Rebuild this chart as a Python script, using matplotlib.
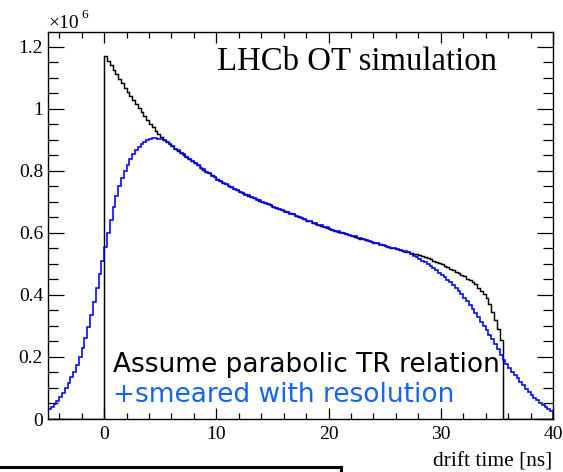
import matplotlib
matplotlib.use("Agg")
import matplotlib.pyplot as plt
import numpy as np
from matplotlib.ticker import MultipleLocator, FuncFormatter
from matplotlib.patches import Rectangle

# ---------------- data (entries per 0.25 ns bin, in units of 10^6) ----------------
t_min, t_max, n_bins = -5.0, 40.0, 180

# unsmeared drift time distribution (black)
black_counts = (
    [0.0] * 20 +
    [1.172, 1.153, 1.140, 1.126, 1.111, 1.097, 1.083, 1.069,
     1.055, 1.042, 1.028, 1.015, 1.002, 0.989, 0.977, 0.964,
     0.952, 0.941, 0.930, 0.919, 0.909, 0.901, 0.894, 0.886,
     0.879, 0.872, 0.865, 0.858, 0.852, 0.845, 0.839, 0.832,
     0.825, 0.818, 0.811, 0.804, 0.798, 0.792, 0.786, 0.779,
     0.773, 0.767, 0.762, 0.757, 0.752, 0.747, 0.742, 0.737,
     0.733, 0.729, 0.724, 0.720, 0.716, 0.712, 0.708, 0.704,
     0.700, 0.696, 0.693, 0.689, 0.685, 0.681, 0.678, 0.674,
     0.670, 0.667, 0.663, 0.660, 0.656, 0.652, 0.648, 0.644,
     0.640, 0.637, 0.633, 0.630, 0.626, 0.623, 0.620, 0.617,
     0.613, 0.610, 0.607, 0.604, 0.602, 0.599, 0.596, 0.593,
     0.591, 0.588, 0.585, 0.582, 0.580, 0.577, 0.574, 0.571,
     0.569, 0.566, 0.563, 0.560, 0.558, 0.555, 0.553, 0.550,
     0.548, 0.545, 0.543, 0.540, 0.538, 0.536, 0.533, 0.531,
     0.528, 0.525, 0.521, 0.518, 0.515, 0.511, 0.507, 0.503,
     0.499, 0.494, 0.490, 0.485, 0.480, 0.475, 0.470, 0.465,
     0.460, 0.453, 0.447, 0.441, 0.434, 0.424, 0.413, 0.402,
     0.390, 0.370, 0.345, 0.318, 0.290, 0.255] +
    [0.0] * 18
)

# smeared with resolution (blue)
blue_counts = [
    0.032, 0.040, 0.049, 0.059, 0.071, 0.085, 0.100, 0.117,
    0.134, 0.153, 0.175, 0.201, 0.230, 0.262, 0.297, 0.335,
    0.377, 0.422, 0.467, 0.510,
    0.555, 0.600, 0.643, 0.684, 0.720, 0.752, 0.778, 0.800,
    0.820, 0.838, 0.853, 0.866, 0.877, 0.886, 0.894, 0.900,
    0.904, 0.906, 0.906, 0.904, 0.902, 0.899, 0.893, 0.887,
    0.880, 0.871, 0.866, 0.857, 0.853, 0.846, 0.838, 0.833,
    0.827, 0.819, 0.810, 0.805, 0.797, 0.793, 0.785, 0.780,
    0.772, 0.768, 0.761, 0.758, 0.751, 0.748, 0.741, 0.738,
    0.732, 0.730, 0.723, 0.721, 0.715, 0.713, 0.707, 0.705,
    0.699, 0.697, 0.692, 0.690, 0.684, 0.682, 0.677, 0.675,
    0.669, 0.668, 0.662, 0.661, 0.655, 0.653, 0.647, 0.645,
    0.639, 0.638, 0.632, 0.631, 0.625, 0.624, 0.619, 0.618,
    0.612, 0.611, 0.606, 0.605, 0.601, 0.600, 0.595, 0.594,
    0.590, 0.589, 0.584, 0.583, 0.579, 0.578, 0.573, 0.572,
    0.568, 0.567, 0.562, 0.561, 0.557, 0.556, 0.552, 0.551,
    0.547, 0.546, 0.542, 0.541, 0.537, 0.533, 0.527, 0.521,
    0.517, 0.511, 0.505, 0.500, 0.494, 0.487, 0.479, 0.472,
    0.465, 0.457, 0.449, 0.441, 0.432, 0.422, 0.412, 0.402,
    0.391, 0.379, 0.367, 0.355, 0.342, 0.328, 0.314, 0.300,
    0.286, 0.271, 0.257, 0.242, 0.226, 0.208, 0.190, 0.176,
    0.164, 0.153, 0.142, 0.131, 0.120, 0.109, 0.098, 0.087,
    0.078, 0.069, 0.060, 0.052, 0.045, 0.038, 0.031, 0.026,
]

x_ticks = [0, 10, 20, 30, 40]
y_ticks = [0, 0.2, 0.4, 0.6, 0.8, 1.0, 1.2]

assert len(black_counts) == n_bins and len(blue_counts) == n_bins

# ---------------- figure ----------------
W, H = 563, 472
plt.rcParams["font.family"] = ["Liberation Serif", "DejaVu Serif"]
fig = plt.figure(figsize=(W / 100, H / 100), dpi=100)
ax = fig.add_axes([48 / W, 1 - 419 / H, 505 / W, 387 / H])

edges = np.linspace(t_min, t_max, n_bins + 1)
ax.stairs(black_counts, edges, color="black", lw=1.05, baseline=0)
ax.stairs(blue_counts, edges, color="#0000ff", lw=1.15, baseline=0)

ax.set_xlim(t_min, t_max)
ax.set_ylim(0, 1.248)

ax.set_xticks(x_ticks)
ax.set_yticks(y_ticks)
ax.xaxis.set_minor_locator(MultipleLocator(2))
ax.yaxis.set_minor_locator(MultipleLocator(0.05))
ax.yaxis.set_major_formatter(FuncFormatter(lambda v, p: f"{v:g}"))
ax.xaxis.set_major_formatter(FuncFormatter(lambda v, p: f"{v:g}"))

ax.tick_params(which="both", direction="in", top=True, right=True,
               labelsize=14, width=0.9, colors="black")
ax.xaxis.set_tick_params(which="major", length=8, pad=5)
ax.xaxis.set_tick_params(which="minor", length=4.3)
ax.yaxis.set_tick_params(which="major", length=11.5, pad=3.6)
ax.yaxis.set_tick_params(which="minor", length=7.2)
for s in ax.spines.values():
    s.set_linewidth(1.0)

def fx(px):
    return px / W

def fy(py):
    return 1 - py / H

fig.text(fx(48), fy(28), "\u00d710", fontsize=14, va="baseline", ha="left")
fig.text(fx(81), fy(18), "6", fontsize=9.5, va="baseline", ha="left")

fig.text(fx(217), fy(70), "LHCb OT simulation", fontsize=23.6,
         va="baseline", ha="left")
fig.text(fx(552), fy(466), "drift time [ns]", fontsize=15.4,
         va="baseline", ha="right")

fig.text(fx(113), fy(372), "Assume parabolic TR relation", fontsize=19,
         family="DejaVu Sans", color="black", va="baseline", ha="left")
fig.text(fx(113), fy(402), "+smeared with resolution", fontsize=19,
         family="DejaVu Sans", color="#1464F0", va="baseline", ha="left")

# cropped box at bottom-left
fig.add_artist(Rectangle((-0.02, -0.05), 341 / W + 0.02, 0.05 + (H - 467) / H,
                         transform=fig.transFigure, fill=False, lw=2.2,
                         ec="black", clip_on=False))

fig.savefig("out.png", dpi=100)
